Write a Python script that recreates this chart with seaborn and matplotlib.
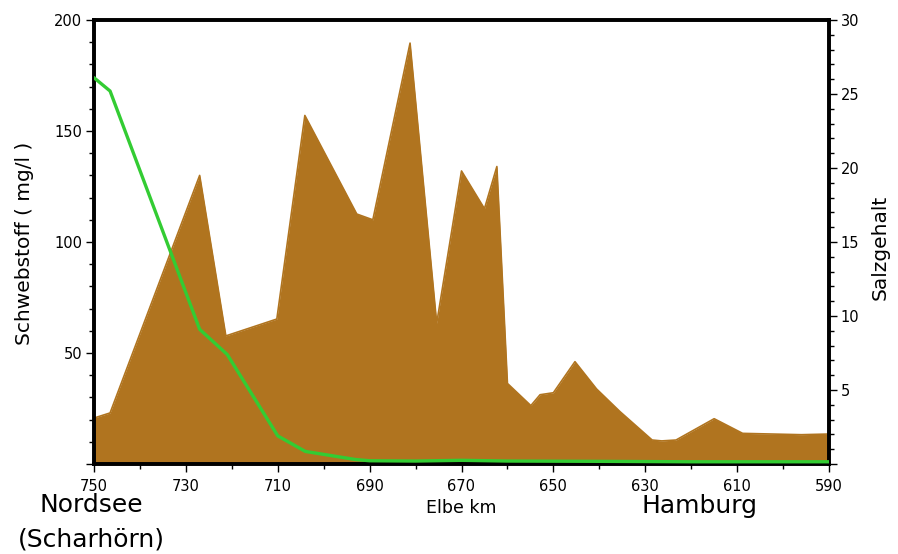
import matplotlib
matplotlib.use("Agg")
import matplotlib.pyplot as plt
from matplotlib.ticker import MultipleLocator
import seaborn as sns
import pandas as pd
import numpy as np

# Schwebstoff (mg/l) entlang der Elbe
km_schweb = [750, 746.5, 727, 721.3, 710.2, 704.1, 692.8, 689.3, 681.2, 675.4,
             670, 665, 662.3, 660, 654.9, 652.9, 650, 645.3, 640.6, 635.5,
             628.5, 626.4, 623.3, 615, 608.8, 596, 590]
schwebstoff = [20.7, 23, 130, 57.7, 65.3, 157, 112.6, 110, 189.6, 63.4,
               132, 115, 134, 36.3, 26.3, 31.2, 32.1, 46.1, 33.8, 23.6,
               10.8, 10.4, 10.8, 20.4, 13.8, 13.2, 13.5]

# Salzgehalt
km_salz = [750, 746.5, 727, 721, 710, 704, 693, 690, 680, 670, 660, 640, 620, 600, 590]
salzgehalt = [26.1, 25.2, 9.1, 7.4, 1.9, 0.85, 0.3, 0.22, 0.2, 0.25, 0.2, 0.18, 0.15, 0.15, 0.15]

x_ticks = [750, 730, 710, 690, 670, 650, 630, 610, 590]
left_ticks = [0, 50, 100, 150, 200]
right_ticks = [0, 5, 10, 15, 20, 25, 30]

braun = "#b0741f"
gruen = "#33cc33"

df_schweb = pd.DataFrame({"km": km_schweb, "wert": schwebstoff})
df_salz = pd.DataFrame({"km": km_salz, "wert": salzgehalt})

sns.set_theme(style="ticks")
plt.rcParams["font.family"] = ["DejaVu Sans"]
plt.rcParams["text.color"] = "black"
plt.rcParams["axes.labelcolor"] = "black"
plt.rcParams["xtick.color"] = "black"
plt.rcParams["ytick.color"] = "black"

fig = plt.figure(figsize=(8.98, 5.54), dpi=100)
ax = fig.add_axes([94 / 898, 1 - 464 / 554, 735 / 898, 444 / 554])

# Flaeche Schwebstoff
ax.fill_between(df_schweb["km"], df_schweb["wert"], 0, color=braun, lw=0, zorder=1)
sns.lineplot(data=df_schweb, x="km", y="wert", ax=ax, color=braun, lw=1.2,
             sort=False, zorder=2)

ax.set_xlim(750, 590)
ax.set_ylim(0, 200)
ax.set_xticks(x_ticks)
ax.set_xticklabels([str(t) for t in x_ticks])
ax.xaxis.set_minor_locator(MultipleLocator(10))
ax.set_yticks(left_ticks)
ax.set_yticklabels([""] + [str(t) for t in left_ticks[1:]])
ax.yaxis.set_minor_locator(MultipleLocator(10))

# Salzgehalt auf zweiter Achse
ax2 = ax.twinx()
sns.lineplot(data=df_salz, x="km", y="wert", ax=ax2, color=gruen, lw=2.4,
             sort=False, zorder=3)
ax2.set_ylim(0, 30)
ax2.set_xlim(750, 590)
ax2.set_yticks(right_ticks)
ax2.set_yticklabels([""] + [str(t) for t in right_ticks[1:]])
ax2.yaxis.set_minor_locator(MultipleLocator(1))

for a in (ax, ax2):
    for s in a.spines.values():
        s.set_linewidth(2.6)
        s.set_color("black")
        s.set_visible(True)
    a.tick_params(which="major", length=6, width=1.0, color="black",
                  labelsize=10.5, labelcolor="black", pad=2.5)
    a.tick_params(which="minor", length=3.5, width=1.0, color="black")
    a.set_xlabel("")
    a.set_ylabel("")

ax.tick_params(axis="x", which="major", pad=5)
ax2.tick_params(axis="x", which="both", top=False, bottom=False)

ax.set_xlabel("Elbe km", fontsize=12.5, color="black")
ax.xaxis.set_label_coords(0.5, -0.0984)
ax.xaxis.label.set_va("center")
ax.set_ylabel("Schwebstoff ( mg/l )", fontsize=14.5, color="black")
ax.yaxis.set_label_coords(-0.0952, 0.4977)
ax.yaxis.label.set_va("center")
ax2.set_ylabel("Salzgehalt", fontsize=14.5, color="black")
ax2.yaxis.set_label_coords(1.0694, 0.489)
ax2.yaxis.label.set_va("center")

fig.text(91 / 898, 1 - 505.5 / 554, "Nordsee", fontsize=18, ha="center", va="center", color="black")
fig.text(91 / 898, 1 - 539 / 554, "(Scharhörn)", fontsize=18, ha="center", va="center", color="black")
fig.text(699 / 898, 1 - 505.5 / 554, "Hamburg", fontsize=18, ha="center", va="center", color="black")

fig.savefig("out.png", dpi=100)
